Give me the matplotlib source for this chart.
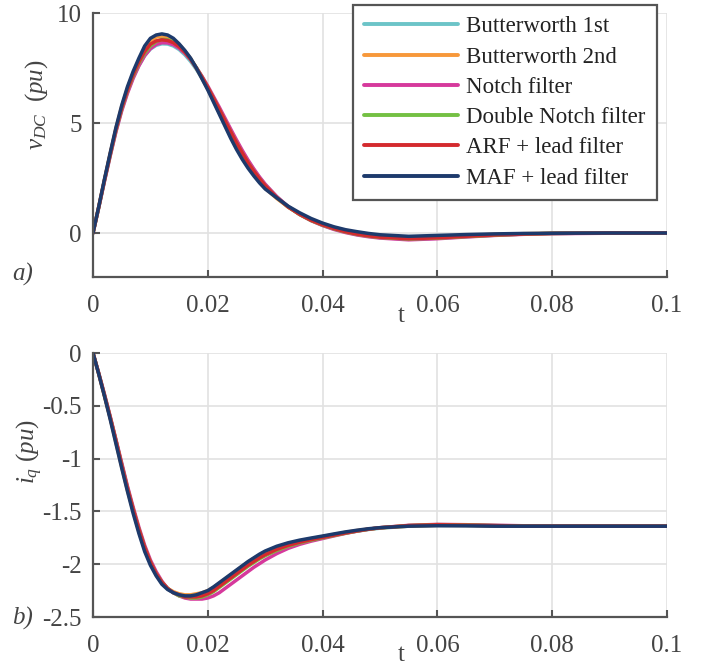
import matplotlib
matplotlib.use("Agg")
import matplotlib.pyplot as plt

plt.rcParams['font.family'] = ['Liberation Serif', 'DejaVu Serif']
plt.rcParams['mathtext.fontset'] = 'custom'
plt.rcParams['mathtext.rm'] = 'Liberation Serif'
plt.rcParams['mathtext.it'] = 'Liberation Serif:italic'
plt.rcParams['axes.unicode_minus'] = False

# ---------------- data ----------------
t = [0, .001, .002, .003, .004, .005, .006, .007, .008, .009, .010, .011, .012, .013,
     .014, .015, .016, .017, .018, .019, .020, .021, .022, .023, .024, .025, .026, .027,
     .028, .029, .030, .032, .034, .036, .038, .040, .042, .044, .046, .048, .050, .055,
     .060, .065, .070, .075, .080, .090, .100]

labels = ["Butterworth 1st", "Butterworth 2nd", "Notch filter",
          "Double Notch filter", "ARF + lead filter", "MAF + lead filter"]
colors = ["#6cc4c8", "#f7983a", "#d6399c", "#74c043", "#d42a2e", "#1d3a6c"]

vdc_bw1 = [0, 1.16, 2.37, 3.53, 4.63, 5.6, 6.4, 7.08, 7.62, 8.06, 8.36, 8.53, 8.6, 8.59, 8.5,
           8.34, 8.1, 7.8, 7.44, 7.03, 6.59, 6.12, 5.63, 5.14, 4.65, 4.17, 3.71, 3.28, 2.89,
           2.53, 2.2, 1.65, 1.2, 0.85, 0.57, 0.35, 0.18, 0.04, -0.07, -0.15, -0.21, -0.28,
           -0.24, -0.17, -0.1, -0.05, -0.02, 0.0, 0.0]
vdc_bw2 = [0, 1.19, 2.43, 3.62, 4.76, 5.75, 6.58, 7.27, 7.86, 8.38, 8.73, 8.9, 8.95, 8.92, 8.79,
           8.57, 8.27, 7.93, 7.5, 7.03, 6.54, 6.01, 5.47, 4.93, 4.4, 3.9, 3.44, 3.03, 2.66,
           2.33, 2.03, 1.57, 1.18, 0.87, 0.61, 0.41, 0.25, 0.12, 0.02, -0.06, -0.12, -0.2,
           -0.16, -0.11, -0.06, -0.03, -0.01, 0.0, 0.0]
vdc_notch = [0, 1.15, 2.35, 3.5, 4.6, 5.55, 6.35, 7.03, 7.6, 8.06, 8.38, 8.57, 8.65, 8.64, 8.56,
             8.4, 8.17, 7.88, 7.52, 7.12, 6.68, 6.2, 5.72, 5.22, 4.72, 4.23, 3.76, 3.32, 2.92,
             2.55, 2.22, 1.66, 1.2, 0.84, 0.56, 0.34, 0.16, 0.02, -0.09, -0.17, -0.23, -0.31,
             -0.26, -0.18, -0.11, -0.06, -0.03, -0.01, 0.0]
vdc_dnotch = [0, 1.17, 2.4, 3.57, 4.68, 5.65, 6.47, 7.15, 7.72, 8.18, 8.5, 8.7, 8.8, 8.78, 8.68,
              8.49, 8.23, 7.91, 7.52, 7.08, 6.61, 6.12, 5.61, 5.1, 4.59, 4.1, 3.63, 3.2, 2.81,
              2.46, 2.14, 1.61, 1.18, 0.84, 0.57, 0.36, 0.19, 0.05, -0.06, -0.14, -0.2, -0.27,
              -0.23, -0.16, -0.1, -0.05, -0.02, 0.0, 0.0]
vdc_arf = [0, 1.18, 2.4, 3.58, 4.7, 5.68, 6.5, 7.2, 7.78, 8.25, 8.58, 8.73, 8.78, 8.75, 8.65,
           8.47, 8.22, 7.9, 7.5, 7.08, 6.62, 6.12, 5.62, 5.1, 4.6, 4.1, 3.64, 3.2, 2.82,
           2.47, 2.15, 1.62, 1.18, 0.85, 0.58, 0.37, 0.2, 0.06, -0.05, -0.13, -0.19, -0.26,
           -0.22, -0.15, -0.09, -0.05, -0.02, 0.0, 0.0]
vdc_maf = [0, 1.2, 2.45, 3.65, 4.8, 5.8, 6.65, 7.35, 7.95, 8.5, 8.85, 9.0, 9.05, 9.0, 8.85,
           8.6, 8.3, 7.95, 7.5, 7.0, 6.5, 5.95, 5.4, 4.85, 4.3, 3.8, 3.35, 2.95, 2.6,
           2.28, 2.0, 1.6, 1.22, 0.92, 0.66, 0.45, 0.28, 0.15, 0.06, -0.02, -0.08, -0.15,
           -0.11, -0.07, -0.04, -0.02, -0.01, 0.0, 0.0]

iq_bw1 = [0, -0.195, -0.4, -0.61, -0.83, -1.05, -1.27, -1.48, -1.67, -1.84, -1.98, -2.09, -2.17,
          -2.23, -2.27, -2.29, -2.3, -2.3, -2.3, -2.29, -2.27, -2.24, -2.2, -2.16, -2.12, -2.08,
          -2.04, -2.0, -1.97, -1.94, -1.91, -1.86, -1.82, -1.79, -1.767, -1.747, -1.725, -1.705,
          -1.687, -1.671, -1.659, -1.64, -1.63, -1.632, -1.636, -1.64, -1.64, -1.64, -1.64]
iq_bw2 = [0, -0.2, -0.41, -0.62, -0.85, -1.08, -1.3, -1.5, -1.69, -1.86, -1.99, -2.1, -2.18,
          -2.23, -2.26, -2.28, -2.29, -2.29, -2.28, -2.27, -2.25, -2.22, -2.18, -2.14, -2.1,
          -2.06, -2.02, -1.98, -1.945, -1.915, -1.885, -1.84, -1.805, -1.78, -1.758, -1.738,
          -1.718, -1.698, -1.681, -1.667, -1.656, -1.64, -1.632, -1.633, -1.637, -1.64, -1.64,
          -1.64, -1.64]
iq_notch = [0, -0.19, -0.39, -0.6, -0.82, -1.04, -1.26, -1.46, -1.65, -1.82, -1.96, -2.07, -2.16,
            -2.23, -2.27, -2.3, -2.32, -2.33, -2.33, -2.33, -2.32, -2.3, -2.27, -2.23, -2.19,
            -2.15, -2.11, -2.07, -2.03, -1.995, -1.96, -1.9, -1.85, -1.812, -1.782, -1.757,
            -1.732, -1.708, -1.687, -1.669, -1.654, -1.632, -1.623, -1.626, -1.631, -1.636,
            -1.64, -1.64, -1.64]
iq_dnotch = [0, -0.195, -0.4, -0.61, -0.83, -1.06, -1.28, -1.48, -1.67, -1.84, -1.98, -2.09, -2.17,
             -2.23, -2.27, -2.3, -2.31, -2.32, -2.32, -2.31, -2.29, -2.26, -2.22, -2.18, -2.14,
             -2.1, -2.06, -2.02, -1.985, -1.95, -1.92, -1.87, -1.83, -1.798, -1.772, -1.75,
             -1.728, -1.706, -1.686, -1.669, -1.655, -1.634, -1.625, -1.628, -1.634, -1.638,
             -1.64, -1.64, -1.64]
iq_arf = [0, -0.195, -0.4, -0.61, -0.83, -1.06, -1.28, -1.48, -1.67, -1.84, -1.98, -2.09, -2.17,
          -2.23, -2.27, -2.29, -2.31, -2.31, -2.31, -2.3, -2.28, -2.25, -2.21, -2.17, -2.13,
          -2.09, -2.05, -2.01, -1.975, -1.94, -1.91, -1.86, -1.822, -1.792, -1.767, -1.746,
          -1.725, -1.704, -1.685, -1.668, -1.655, -1.634, -1.626, -1.63, -1.635, -1.64, -1.64,
          -1.64, -1.64]
iq_maf = [0, -0.2, -0.41, -0.63, -0.86, -1.09, -1.31, -1.52, -1.71, -1.88, -2.01, -2.11, -2.19,
          -2.24, -2.27, -2.29, -2.3, -2.3, -2.29, -2.27, -2.25, -2.215, -2.175, -2.135, -2.095,
          -2.055, -2.015, -1.975, -1.94, -1.905, -1.875, -1.83, -1.797, -1.772, -1.752, -1.733,
          -1.713, -1.694, -1.678, -1.664, -1.654, -1.64, -1.636, -1.637, -1.64, -1.64, -1.64,
          -1.64, -1.64]

vdc_series = [vdc_bw1, vdc_bw2, vdc_notch, vdc_dnotch, vdc_arf, vdc_maf]
iq_series = [iq_bw1, iq_bw2, iq_notch, iq_dnotch, iq_arf, iq_maf]

xticks = [0, 0.02, 0.04, 0.06, 0.08, 0.1]
xticklabels = ["0", "0.02", "0.04", "0.06", "0.08", "0.1"]
vdc_ticks = [0, 5, 10]
vdc_ticklabels = ["0", "5", "10"]
iq_ticks = [0, -0.5, -1, -1.5, -2, -2.5]
iq_ticklabels = ["0", "-0.5", "-1", "-1.5", "-2", "-2.5"]

# ---------------- figure ----------------
W, H = 702, 666
fig = plt.figure(figsize=(W / 100, H / 100), dpi=100)

def fax(x0, y0, x1, y1):
    return fig.add_axes([x0 / W, 1 - y1 / H, (x1 - x0) / W, (y1 - y0) / H])

ax1 = fax(93, 13, 667, 277)
ax2 = fax(93, 353, 667, 617)

spine_c = "#555555"
tick_c = "#444444"
fs = 18
lfs = 16.5

def style(ax, yt, ytl, ylim):
    ax.set_xlim(0, 0.1)
    ax.set_ylim(*ylim)
    ax.set_xticks(xticks)
    ax.set_xticklabels(xticklabels)
    ax.set_yticks(yt)
    ax.set_yticklabels(ytl)
    for s in ["top", "right"]:
        ax.spines[s].set_visible(False)
    for s in ["left", "bottom"]:
        ax.spines[s].set_color(spine_c)
        ax.spines[s].set_linewidth(1.6)
    ax.grid(True, color="#e2e2e2", linewidth=1.2)
    ax.set_axisbelow(True)
    ax.tick_params(axis="both", direction="in", length=5, width=1.5, color=spine_c,
                   labelcolor=tick_c, labelsize=fs)
    ax.tick_params(axis="x", pad=13)
    ax.tick_params(axis="y", pad=8)

style(ax1, vdc_ticks, vdc_ticklabels, (-2, 10))
style(ax2, iq_ticks, iq_ticklabels, (-2.5, 0))

lines = []
for ys, c, lab in zip(vdc_series, colors, labels):
    ln, = ax1.plot(t, ys, color=c, linewidth=2.5, label=lab, solid_capstyle="round")
    lines.append(ln)
for ys, c in zip(iq_series, colors):
    ax2.plot(t, ys, color=c, linewidth=2.5, solid_capstyle="round")

def ftext(x, y, s, **kw):
    fig.text(x / W, 1 - y / H, s, color=tick_c, **kw)

ftext(401, 316, "t", fontsize=fs, ha="center", va="center")
ftext(401, 655, "t", fontsize=fs, ha="center", va="center")
ftext(37, 105, r"$v_{DC}\ \ (pu)$", fontsize=fs, ha="center", va="center", rotation=90)
ftext(30, 452, r"$i_q\ (pu)$", fontsize=fs, ha="center", va="center", rotation=90)
ftext(23, 274, "a)", fontsize=fs, ha="center", va="center", style="italic")
ftext(23, 618, "b)", fontsize=fs, ha="center", va="center", style="italic")

leg = ax1.legend(handles=lines, loc="upper right",
                 bbox_to_anchor=(657 / W, 1 - 5 / H), bbox_transform=fig.transFigure,
                 fontsize=lfs, frameon=True, fancybox=False, framealpha=1,
                 edgecolor="#555555", handlelength=4.1, handletextpad=0.35,
                 labelspacing=0.4, borderpad=0.5, borderaxespad=0)
leg.get_frame().set_linewidth(1.6)
for txt in leg.get_texts():
    txt.set_color("#222222")
for lh in leg.get_lines():
    lh.set_linewidth(2.8)

fig.savefig("out.png", dpi=100)
